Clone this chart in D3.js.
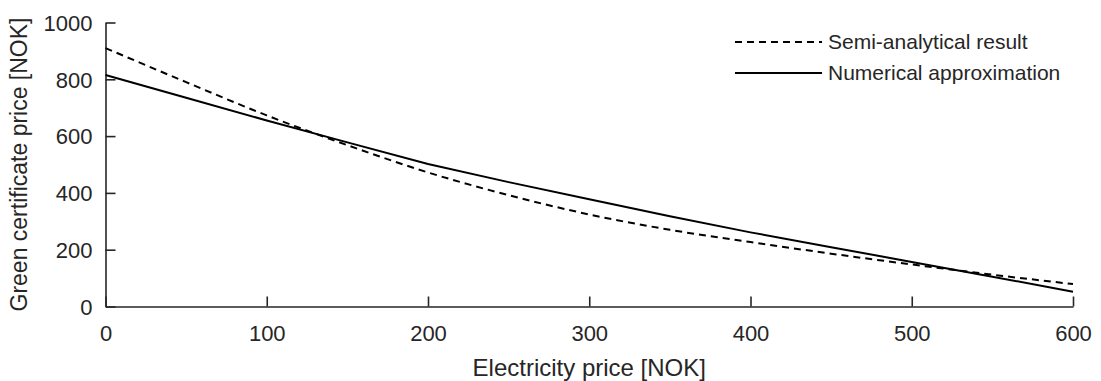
<!DOCTYPE html>
<html>
<head>
<meta charset="utf-8">
<script src="https://cdn.jsdelivr.net/npm/d3@7"></script>
<style>
  html, body { margin: 0; padding: 0; background: #fff; }
  svg { display: block; }
  text { font-family: "Liberation Sans", Arial, Helvetica, sans-serif; fill: #262626; }
</style>
</head>
<body>
<svg id="chart" width="1101" height="381"></svg>
<script>
// Electricity price grid [NOK]
const electricityPrice = [0, 50, 100, 150, 200, 250, 300, 350, 400, 450, 500, 550, 600];
// Green certificate price [NOK], semi-analytical result
const semiAnalytical = [910, 790, 673, 568, 472, 392, 324, 270, 227, 186, 148, 112, 79];
// Green certificate price [NOK], numerical approximation
const numerical = [815, 735, 655, 578, 502, 438, 378, 318, 261, 209, 157, 105, 52];

const xTicks = [0, 100, 200, 300, 400, 500, 600];
const yTicks = [0, 200, 400, 600, 800, 1000];

const seriesNames = ["Semi-analytical result", "Numerical approximation"];

const svg = d3.select("#chart");
const margin = { left: 105.5, right: 28, top: 22.5, bottom: 74.5 };
const W = 1101, H = 381;

const x = d3.scaleLinear().domain([0, 600]).range([margin.left, W - margin.right]);
const y = d3.scaleLinear().domain([0, 1000]).range([H - margin.bottom, margin.top]);

const axisColor = "#262626";
const fmt = d3.format("d");

// Axes with inward ticks
const xAxis = d3.axisBottom(x).tickValues(xTicks).tickFormat(fmt)
  .tickSizeInner(-10).tickSizeOuter(0).tickPadding(19);
const yAxis = d3.axisLeft(y).tickValues(yTicks).tickFormat(fmt)
  .tickSizeInner(-10).tickSizeOuter(0).tickPadding(13);

const gx = svg.append("g").attr("transform", `translate(0,${y(0)})`).call(xAxis);
const gy = svg.append("g").attr("transform", `translate(${x(0)},0)`).call(yAxis);

[gx, gy].forEach(g => {
  g.attr("font-size", null).attr("font-family", null);
  g.select(".domain").attr("stroke", axisColor).attr("stroke-width", 1.6);
  g.selectAll(".tick line").attr("stroke", axisColor).attr("stroke-width", 1.6);
  g.selectAll(".tick text").attr("fill", axisColor).style("font-size", "22px");
});
gx.selectAll(".tick text").attr("dy", "0.71em");
gy.selectAll(".tick text").attr("dy", "0.35em");

// Axis titles
svg.append("text")
  .attr("x", (x(0) + x(600)) / 2)
  .attr("y", 376)
  .attr("text-anchor", "middle")
  .style("font-size", "24px")
  .text("Electricity price [NOK]");

svg.append("text")
  .attr("transform", `translate(27,${(y(0) + y(1000)) / 2}) rotate(-90)`)
  .attr("text-anchor", "middle")
  .style("font-size", "23px")
  .text("Green certificate price [NOK]");

// Curves
const line = d3.line()
  .x((d, i) => x(electricityPrice[i]))
  .y(d => y(d));

const lineSmooth = d3.line()
  .x((d, i) => x(electricityPrice[i]))
  .y(d => y(d))
  .curve(d3.curveMonotoneX);

svg.append("path")
  .datum(semiAnalytical)
  .attr("d", lineSmooth)
  .attr("fill", "none")
  .attr("stroke", "#000")
  .attr("stroke-width", 2)
  .attr("stroke-dasharray", "7,5");

svg.append("path")
  .datum(numerical)
  .attr("d", line)
  .attr("fill", "none")
  .attr("stroke", "#000")
  .attr("stroke-width", 2);

// Legend
const legend = svg.append("g");
const legendRows = [
  { name: seriesNames[0], dash: "7,5", yPos: 42 },
  { name: seriesNames[1], dash: null, yPos: 73 }
];
legendRows.forEach(r => {
  legend.append("line")
    .attr("x1", 735).attr("x2", 822)
    .attr("y1", r.yPos).attr("y2", r.yPos)
    .attr("stroke", "#000").attr("stroke-width", 2)
    .attr("stroke-dasharray", r.dash);
  legend.append("text")
    .attr("x", 828).attr("y", r.yPos)
    .attr("dy", "0.35em")
    .style("font-size", "21px")
    .text(r.name);
});
</script>
</body>
</html>
